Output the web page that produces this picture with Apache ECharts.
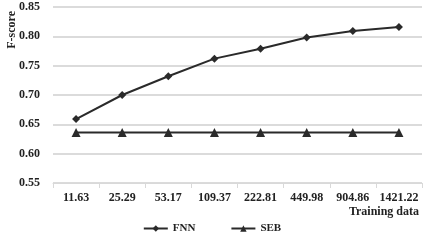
<!DOCTYPE html>
<html>
<head>
<meta charset="utf-8">
<script src="https://cdn.jsdelivr.net/npm/echarts@6/dist/echarts.min.js"></script>
<style>
html, body { margin: 0; padding: 0; background: #fff; }
#main { width: 424px; height: 240px; }
</style>
</head>
<body>
<div id="main"></div>
<script>
var categories = ['11.63', '25.29', '53.17', '109.37', '222.81', '449.98', '904.86', '1421.22'];
var fnnValues = [0.659, 0.700, 0.732, 0.762, 0.779, 0.798, 0.809, 0.816];
var sebValues = [0.636, 0.636, 0.636, 0.636, 0.636, 0.636, 0.636, 0.636];
var yTicks = [0.55, 0.60, 0.65, 0.70, 0.75, 0.80, 0.85];

var myChart = echarts.init(document.getElementById('main'));
var font = '"Liberation Serif", "Times New Roman", serif';
option = {
    animation: false,
    textStyle: { fontFamily: font },
    grid: { left: 53, right: 2, top: 7, bottom: 57 },
    legend: {
        bottom: 1,
        left: 'center',
        itemWidth: 24,
        itemHeight: 8,
        itemGap: 35,
        textStyle: { fontFamily: font, fontWeight: 'bold', fontSize: 11, color: '#222' },
        data: ['FNN', 'SEB']
    },
    xAxis: {
        type: 'category',
        data: categories,
        boundaryGap: true,
        axisLine: { lineStyle: { color: '#d9d9d9', width: 1 } },
        axisTick: { show: true, length: 5, lineStyle: { color: '#d9d9d9' } },
        axisLabel: { interval: 0, fontFamily: font, fontWeight: 'bold', fontSize: 12, color: '#222', margin: 9 }
    },
    yAxis: {
        type: 'value',
        min: yTicks[0],
        max: yTicks[yTicks.length - 1],
        interval: 0.05,
        axisLine: { show: false },
        axisTick: { show: false },
        axisLabel: {
            fontFamily: font, fontWeight: 'bold', fontSize: 12, color: '#222', margin: 13,
            formatter: function (v) { return v.toFixed(2); }
        },
        splitLine: { lineStyle: { color: '#cfcfcf', width: 1.5 } }
    },
    graphic: [
        {
            type: 'text', left: 6, top: 11, rotation: Math.PI / 2,
            style: { text: 'F-score', font: 'bold 12px ' + font, fill: '#222' }
        },
        {
            type: 'text', right: 5, top: 206,
            style: { text: 'Training data', font: 'bold 12px ' + font, fill: '#222' }
        }
    ],
    series: [
        {
            name: 'FNN', type: 'line',
            data: fnnValues,
            symbol: 'diamond', symbolSize: 8,
            itemStyle: { color: '#2a2a2a' },
            lineStyle: { color: '#2a2a2a', width: 2 }
        },
        {
            name: 'SEB', type: 'line',
            data: sebValues,
            symbol: 'triangle', symbolSize: 9,
            itemStyle: { color: '#2a2a2a' },
            lineStyle: { color: '#2a2a2a', width: 2 }
        }
    ]
};
myChart.setOption(option);
</script>
</body>
</html>
